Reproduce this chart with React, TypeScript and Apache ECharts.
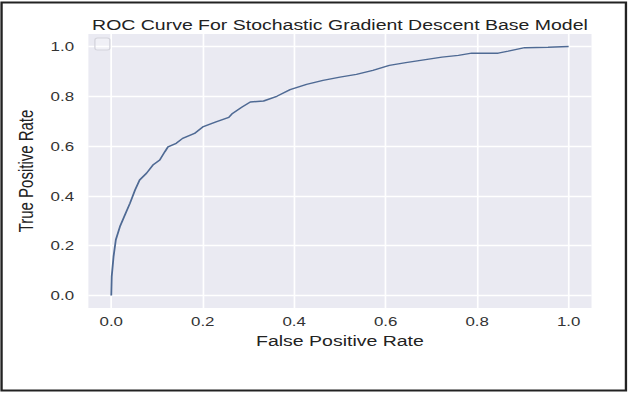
import React, { useEffect, useRef } from "react";
import * as echarts from "echarts";

const fpr = [0, 0.001, 0.005, 0.01, 0.019, 0.03, 0.041, 0.052, 0.062, 0.077, 0.091, 0.106, 0.117, 0.124, 0.142, 0.156, 0.182, 0.2, 0.229, 0.257, 0.265, 0.286, 0.304, 0.333, 0.362, 0.391, 0.427, 0.463, 0.5, 0.536, 0.572, 0.608, 0.644, 0.687, 0.723, 0.759, 0.788, 0.846, 0.868, 0.904, 0.955, 1.0];
const tpr = [0, 0.077, 0.157, 0.224, 0.277, 0.324, 0.371, 0.424, 0.464, 0.491, 0.524, 0.544, 0.577, 0.597, 0.611, 0.631, 0.651, 0.677, 0.697, 0.715, 0.731, 0.757, 0.777, 0.781, 0.8, 0.827, 0.848, 0.864, 0.877, 0.888, 0.904, 0.924, 0.935, 0.947, 0.957, 0.964, 0.973, 0.973, 0.981, 0.995, 0.997, 1.0];
const xTicks = [0, 0.2, 0.4, 0.6, 0.8, 1.0];
const yTicks = [0, 0.2, 0.4, 0.6, 0.8, 1.0];

const TITLE = "ROC Curve For Stochastic Gradient Descent Base Model";
const X_NAME = "False Positive Rate";
const Y_NAME = "True Positive Rate";

const STRETCH = 1.3;
const W = 483;
const H = 393;
const FONT = "'Liberation Sans', Arial, sans-serif";

export default function App() {
  const ref = useRef<HTMLDivElement>(null);
  useEffect(() => {
    if (!ref.current) return;
    const chart = echarts.init(ref.current, null, { renderer: "svg" });
    const fmt = (v: number) => v.toFixed(1);
    chart.setOption({
      animation: false,
      backgroundColor: "#ffffff",
      textStyle: { fontFamily: FONT },
      title: {
        text: TITLE,
        left: 261.5,
        top: 17,
        padding: 0,
        textAlign: "center",
        textStyle: { fontFamily: FONT, fontSize: 15, fontWeight: "normal", color: "#222" },
      },
      grid: {
        left: 68,
        right: 28,
        top: 34,
        bottom: 85,
        show: true,
        backgroundColor: "#EAEAF2",
        borderWidth: 0,
      },
      xAxis: {
        type: "value",
        min: -0.05,
        max: 1.05,
        name: X_NAME,
        nameLocation: "middle",
        nameGap: 21,
        nameTextStyle: { fontFamily: FONT, fontSize: 15, color: "#222" },
        axisLine: { show: false },
        axisTick: { show: false, customValues: xTicks },
        axisLabel: { customValues: xTicks, formatter: fmt, margin: 7, fontFamily: FONT, fontSize: 13, color: "#333" },
        splitLine: { show: true, lineStyle: { color: "#ffffff", width: 1.3 } },
      },
      yAxis: {
        type: "value",
        min: -0.05,
        max: 1.05,
        name: Y_NAME,
        nameLocation: "middle",
        nameGap: 28.5,
        nameTextStyle: { fontFamily: FONT, fontSize: 15, color: "#222" },
        axisLine: { show: false },
        axisTick: { show: false, customValues: yTicks },
        axisLabel: { customValues: yTicks, formatter: fmt, margin: 11, fontFamily: FONT, fontSize: 13, color: "#333" },
        splitLine: { show: true, lineStyle: { color: "#ffffff", width: 1.3 } },
      },
      series: [
        {
          type: "line",
          data: fpr.map((x, i) => [x, tpr[i]]),
          showSymbol: false,
          symbol: "none",
          lineStyle: { color: "#4f6a94", width: 1.4 },
          z: 3,
        },
      ],
      graphic: [
        {
          type: "rect",
          shape: { x: 73, y: 38, width: 11.5, height: 12, r: 2 },
          style: { fill: "rgba(255,255,255,0.3)", stroke: "#d4d4dc", lineWidth: 1 },
          z: 10,
        },
        {
          type: "rect",
          shape: { x: 1.2, y: 2.5, width: 480.3, height: 388 },
          style: { fill: "none", stroke: "#222", lineWidth: 1.8 },
          z: 10,
        },
      ],
    });
    return () => chart.dispose();
  }, []);
  return (
    <div style={{ position: "fixed", left: 0, top: 0, width: 628, height: H, overflow: "hidden", background: "#fff" }}>
      <div
        ref={ref}
        style={{ width: W, height: H, transform: `scaleX(${STRETCH})`, transformOrigin: "0 0" }}
      />
    </div>
  );
}
